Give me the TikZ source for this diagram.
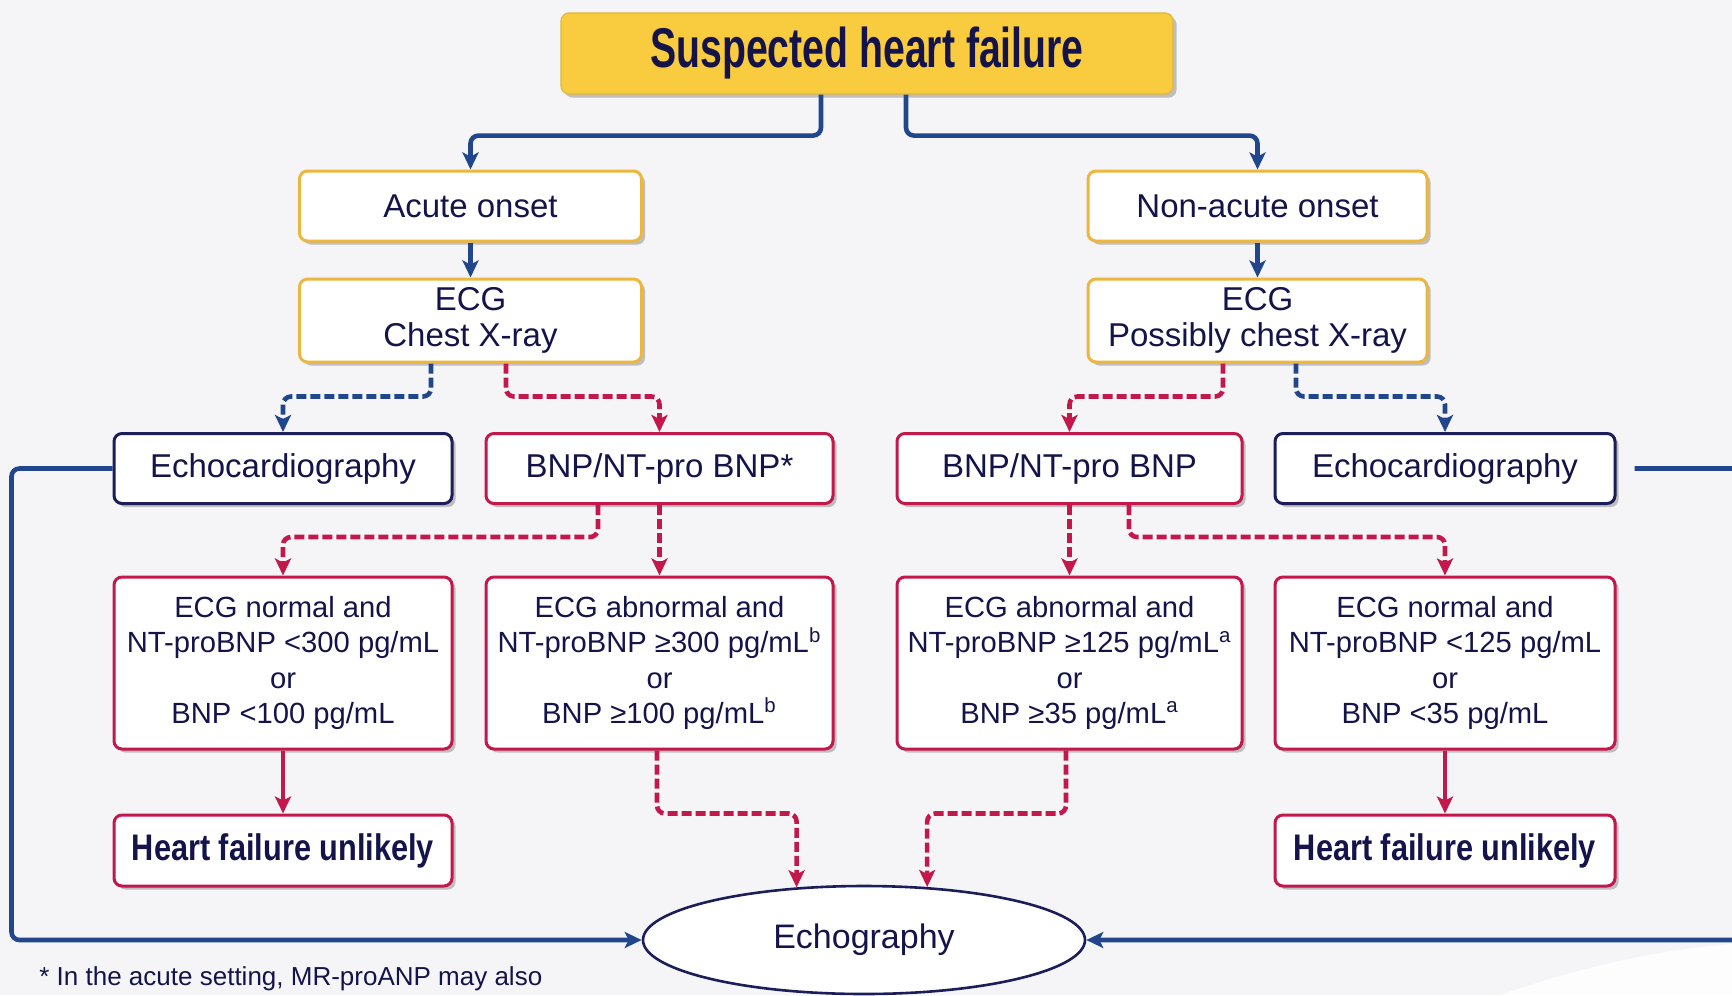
\documentclass[tikz,border=0pt]{standalone}
\usepackage{fontspec}
\setmainfont{Liberation Sans}
\usetikzlibrary{shapes.geometric,arrows.meta,shadows,calc}

\definecolor{ink}{HTML}{14144A}
\definecolor{flowblue}{HTML}{22468C}
\definecolor{flowred}{HTML}{C2184B}
\definecolor{gold}{HTML}{EDB63E}
\definecolor{titlefill}{HTML}{F9CB3E}
\definecolor{navyline}{HTML}{1C1E5A}
\definecolor{paper}{HTML}{F5F5F8}

\tikzset{
  boxbase/.style={rounded corners=4pt, line width=1.5pt, fill=white, text=ink,
    align=center, inner sep=0pt, minimum height=35pt,
    font=\fontsize{16.5}{18}\selectfont,
    drop shadow={shadow xshift=1.8pt, shadow yshift=-1.8pt, opacity=0.3, fill=black!75}},
  goldbox/.style={boxbase, draw=gold, minimum width=171pt},
  navybox/.style={boxbase, draw=navyline, minimum width=170pt},
  redbox/.style={boxbase, draw=flowred, minimum width=172pt},
  critbox/.style={redbox, minimum height=86pt, font=\fontsize{14.6}{17.6}\selectfont},
  tipend/.style={-{Stealth[length=8.5pt,width=8pt,inset=2pt]}},
  blueline/.style={tipend, draw=flowblue, line width=2.3pt, rounded corners=4pt},
  redline/.style={tipend, draw=flowred, line width=2.3pt, rounded corners=4pt},
  bluedash/.style={blueline, dash pattern=on 5pt off 2pt},
  reddash/.style={redline, dash pattern=on 5pt off 2pt},
}

\begin{document}
\begin{tikzpicture}[x=0.5pt, y=-0.5pt]
  % page frame and background
  \useasboundingbox (0,0) rectangle (1732,995);
  \fill[paper] (0,0) rectangle (1732,995);
  \clip (0,0) rectangle (1732,995);
  \fill[white, opacity=0.8] (1500,995) .. controls (1600,960) and (1680,948) .. (1732,944) -- (1732,995) -- cycle;

  % title
  \node[boxbase, fill=titlefill, draw=titlefill!90!black, line width=0.6pt,
        minimum width=306pt, minimum height=40.5pt] (title) at (867,53.5)
        {\fontsize{28}{30}\selectfont\bfseries\scalebox{0.7}[1]{Suspected heart failure}};

  % onset and first investigations
  \node[goldbox] (acute)    at (470.5,206)  {Acute onset};
  \node[goldbox, minimum height=41.5pt] (ecgA) at (470.5,320.5) {ECG\\Chest X-ray};
  \node[goldbox, minimum width=169.5pt] (nonacute) at (1257.5,206) {Non-acute onset};
  \node[goldbox, minimum width=169.5pt, minimum height=41.5pt] (ecgB) at (1257.5,320.5) {ECG\\Possibly chest X-ray};

  % second row
  \node[navybox, minimum width=169pt] (echoA) at (283,468.5)    {Echocardiography};
  \node[redbox, minimum width=173.5pt] (bnpA)  at (659.5,468.5) {BNP/NT-pro BNP*};
  \node[redbox, minimum width=172.5pt] (bnpB)  at (1069.5,468.5) {BNP/NT-pro BNP};
  \node[navybox] (echoB) at (1445,468.5) {Echocardiography};

  % natriuretic peptide criteria
  \node[critbox, minimum width=169pt] (critA) at (283,663)
    {ECG normal and\\NT-proBNP <300 pg/mL\\or\\BNP <100 pg/mL};
  \node[critbox, minimum width=173.5pt] (critB) at (659.5,663)
    {ECG abnormal and\\NT-proBNP ≥300 pg/mL\textsuperscript{b}\\or\\BNP ≥100 pg/mL\textsuperscript{b}};
  \node[critbox, minimum width=172.5pt] (critC) at (1069.5,663)
    {ECG abnormal and\\NT-proBNP ≥125 pg/mL\textsuperscript{a}\\or\\BNP ≥35 pg/mL\textsuperscript{a}};
  \node[critbox, minimum width=170pt] (critD) at (1445,663)
    {ECG normal and\\NT-proBNP <125 pg/mL\\or\\BNP <35 pg/mL};

  % outcomes
  \node[redbox, minimum width=169pt, minimum height=35.5pt] (unlikelyA) at (283,850.5)
    {\fontsize{18.5}{20}\selectfont\bfseries\scalebox{0.83}[1]{Heart failure unlikely}};
  \node[redbox, minimum width=170pt, minimum height=35.5pt] (unlikelyB) at (1445,850.5)
    {\fontsize{18.5}{20}\selectfont\bfseries\scalebox{0.83}[1]{Heart failure unlikely}};
  \node[ellipse, draw=navyline, line width=1.3pt, fill=white, text=ink, inner sep=0pt,
        minimum width=221pt, minimum height=54pt, font=\fontsize{17}{18}\selectfont]
        (echo) at (864,940) {Echography};

  % footnote
  \node[anchor=base west, text=ink, inner sep=0pt, font=\fontsize{13}{15}\selectfont]
        (note) at (39,985) {* In the acute setting, MR-proANP may also};

  % connectors: onset branches
  \draw[blueline] ([xshift=-23pt]title.south) -- ++(0,41) -| (acute.north);
  \draw[blueline] ([xshift=19.5pt]title.south) -- ++(0,41) -| (nonacute.north);
  \draw[blueline] (acute.south) -- (ecgA.north);
  \draw[blueline] (nonacute.south) -- (ecgB.north);

  % connectors: investigations
  \draw[bluedash] ([xshift=-19.75pt]ecgA.south) -- ++(0,33) -| (echoA.north);
  \draw[reddash]  ([xshift=17.75pt]ecgA.south)  -- ++(0,33) -| (bnpA.north);
  \draw[reddash]  ([xshift=-17.25pt]ecgB.south) -- ++(0,33) -| (bnpB.north);
  \draw[bluedash] ([xshift=19.25pt]ecgB.south)  -- ++(0,33) -| (echoB.north);

  % connectors: peptide results
  \draw[reddash] ([xshift=-30.75pt]bnpA.south) -- ++(0,32) -| (critA.north);
  \draw[reddash] (bnpA.south) -- (critB.north);
  \draw[reddash] (bnpB.south) -- (critC.north);
  \draw[reddash] ([xshift=29.75pt]bnpB.south) -- ++(0,32) -| (critD.north);

  % connectors: outcomes
  \draw[redline] (critA.south) -- (unlikelyA.north);
  \draw[redline] (critD.south) -- (unlikelyB.north);
  \draw[reddash] ([xshift=-1.25pt]critB.south) -- ++(0,63) -| (echo.142.5);
  \draw[reddash] ([xshift=-1.75pt]critC.south) -- ++(0,63) -| (echo.40.4);

  % connectors: direct echocardiography
  \draw[blueline] (echoA.west) -- ++(-101,0) |- (echo.west);
  \draw[blueline] ([xshift=9pt]echoB.east) -- ++(160,0) |- (echo.east);
\end{tikzpicture}
\end{document}
